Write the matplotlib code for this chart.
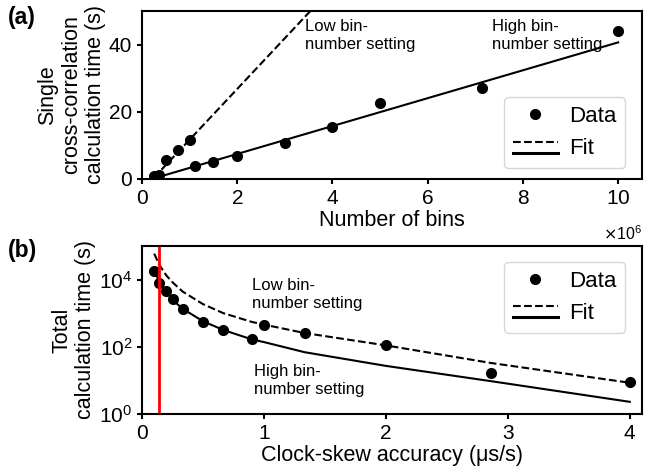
import numpy as np
import matplotlib.pyplot as plt
from matplotlib.lines import Line2D
from matplotlib.legend_handler import HandlerBase

plt.rcParams['font.family'] = ['Liberation Sans', 'DejaVu Sans']
plt.rcParams['axes.linewidth'] = 1.5

# (a) single cross-correlation time vs number of bins (x in units of 1e6)
low_bins = [0.25, 0.35, 0.5, 0.75, 1.0]
low_time = [0.9, 1.1, 5.6, 8.5, 11.6]
high_bins = [1.11, 1.5, 2, 3, 4, 5, 7.14, 10]
high_time = [3.9, 5.2, 6.9, 10.7, 15.4, 22.6, 27.2, 44.0]
# linear fits (slope, intercept)
low_fit = (15.1, -3.4)
high_fit = (4.15, -0.85)
fit_bins = [0.25, 10]

# (b) total calculation time vs clock-skew accuracy
skew_high = [0.1, 0.14, 0.2, 0.25, 0.333, 0.5, 0.667, 0.9]
total_high = [17800, 7900, 4600, 2600, 1300, 560, 316, 174]
skew_low = [1.0, 1.333, 2.0, 2.86, 4.0]
total_low = [457, 257, 110, 17, 8.9]
skew_fit = [0.1, 0.14, 0.2, 0.25, 0.333, 0.5, 0.667, 0.9, 1.0, 1.333, 2.0, 2.86, 4.0]
fit_total_high = [18600, 8900, 4200, 2500, 1350, 575, 316, 166, 138, 69, 27, 9.5, 2.3]
fit_total_low = [59000, 28000, 13200, 8300, 4400, 1860, 1000, 550, 457, 257, 110, 33, 8.5]
skew_target = 0.14


class FitKey:
    pass


class FitHandler(HandlerBase):
    # dashed over solid, like the original "Fit" entry
    def create_artists(self, legend, orig_handle, xdescent, ydescent,
                       width, height, fontsize, trans):
        xs = [-xdescent, -xdescent + width]
        l1 = Line2D(xs, [height * 0.8 - ydescent] * 2, color='k', ls='--', lw=1.5, transform=trans)
        l2 = Line2D(xs, [height * 0.1 - ydescent] * 2, color='k', ls='-', lw=2.2, transform=trans)
        return [l1, l2]


def add_legend(ax, **kw):
    data_h = Line2D([], [], marker='o', color='k', ls='none', ms=7)
    ax.legend([data_h, FitKey()], ['Data', 'Fit'], handler_map={FitKey: FitHandler()},
              fontsize=16, handlelength=2.0, handletextpad=0.5, borderaxespad=0, **kw)


fig = plt.figure(figsize=(6.59, 4.72), dpi=100)
ax1 = fig.add_axes([0.2155, 0.6208, 0.7587, 0.356])
ax2 = fig.add_axes([0.2155, 0.1229, 0.7587, 0.356])

# ---- (a)
fx = np.array(fit_bins)
ax1.plot(fx * 1e6, low_fit[0] * fx + low_fit[1], 'k--', lw=1.5)
ax1.plot(fx * 1e6, high_fit[0] * fx + high_fit[1], 'k-', lw=1.5)
ax1.plot(np.array(low_bins) * 1e6, low_time, 'ko', ms=7)
ax1.plot(np.array(high_bins) * 1e6, high_time, 'ko', ms=7)
ax1.set_xlim(0, 10.5e6)
ax1.set_ylim(0, 50)
ax1.set_xticks(np.arange(0, 11, 2) * 1e6)
ax1.set_yticks([0, 20, 40])
ax1.ticklabel_format(axis='x', style='sci', scilimits=(6, 6), useMathText=True)
ax1.xaxis.get_offset_text().set_visible(False)
ax1.text(1.0, -0.27, r'$\times\mathdefault{10^{6}}$', transform=ax1.transAxes,
         ha='right', va='top', fontsize=11.5)
ax1.set_xlabel('Number of bins', fontsize=15.5, labelpad=2)
ax1.set_ylabel('Single\ncross-correlation\ncalculation time (s)', fontsize=15.5, labelpad=2)
ax1.text(3.42e6, 47.5, 'Low bin-\nnumber setting', fontsize=12, va='top')
ax1.text(7.36e6, 47.5, 'High bin-\nnumber setting', fontsize=12, va='top')
add_legend(ax1, loc='lower right', bbox_to_anchor=(0.966, 0.065))

# ---- (b)
ax2.semilogy(skew_fit, fit_total_low, 'k--', lw=1.5)
ax2.semilogy(skew_fit, fit_total_high, 'k-', lw=1.5)
ax2.semilogy(skew_high, total_high, 'ko', ms=7)
ax2.semilogy(skew_low, total_low, 'ko', ms=7)
ax2.axvline(skew_target, color='red', lw=2)
ax2.set_xlim(0, 4.1)
ax2.set_ylim(1, 1e5)
ax2.set_xticks([0, 1, 2, 3, 4])
ax2.set_yticks([1, 1e2, 1e4])
ax2.minorticks_off()
ax2.set_xlabel('Clock-skew accuracy (μs/s)', fontsize=15.5, labelpad=2)
ax2.set_ylabel('Total\ncalculation time (s)', fontsize=15.5, labelpad=2)
ax2.text(0.9, 1.1e4, 'Low bin-\nnumber setting', fontsize=12, va='top')
ax2.text(0.92, 30, 'High bin-\nnumber setting', fontsize=12, va='top')
add_legend(ax2, loc='upper right', bbox_to_anchor=(0.966, 0.905))

for ax in (ax1, ax2):
    ax.tick_params(labelsize=15, length=3.5, width=1.5)

fig.text(0.012, 0.988, '(a)', fontsize=16.5, fontweight='bold', va='top')
fig.text(0.012, 0.493, '(b)', fontsize=16.5, fontweight='bold', va='top')

plt.savefig('out.png', dpi=100)
